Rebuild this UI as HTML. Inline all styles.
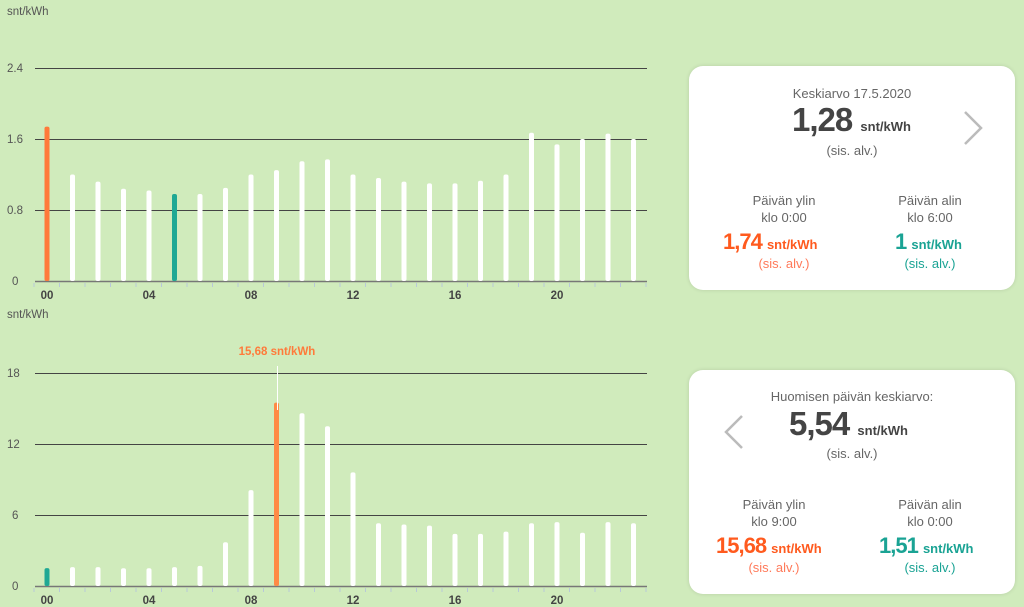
<!DOCTYPE html>
<html><head><meta charset="utf-8"><style>
body{margin:0;width:1024px;height:607px;background:#d0ebbc;font-family:"Liberation Sans",sans-serif;position:relative;overflow:hidden}
.card{position:absolute;left:689px;width:326px;height:224px;background:#fff;border-radius:14px;box-shadow:0 0 4px rgba(0,0,0,.12);color:#555;text-align:center}
.t{position:absolute;font-size:13px;color:#666;white-space:nowrap}
.big{position:absolute;font-weight:bold;white-space:nowrap;color:#444;font-size:33px;letter-spacing:-1px}
.big span{font-size:13px;letter-spacing:0}
.mid{position:absolute;font-weight:bold;white-space:nowrap;font-size:22px;letter-spacing:-1px}
.mid span{font-size:13px;letter-spacing:0}
.o{color:#ff5a1e}.g{color:#1aa394}
</style></head><body>
<svg width="680" height="607" style="position:absolute;left:0;top:0" font-family="Liberation Sans,sans-serif">
<g font-size="11.5" fill="#555">
<text x="7" y="15">snt/kWh</text><text x="7" y="318">snt/kWh</text>
<text x="7" y="72">2.4</text><text x="7" y="143">1.6</text><text x="7" y="214">0.8</text><text x="12" y="285">0</text>
<text x="7" y="377">18</text><text x="7" y="448">12</text><text x="12" y="519">6</text><text x="12" y="590">0</text>
</g>
<g stroke="#444" stroke-width="1">
<line x1="35" x2="647" y1="68.5" y2="68.5"/><line x1="35" x2="647" y1="139.5" y2="139.5"/><line x1="35" x2="647" y1="210.5" y2="210.5"/>
<line x1="35" x2="647" y1="373.5" y2="373.5"/><line x1="35" x2="647" y1="444.5" y2="444.5"/><line x1="35" x2="647" y1="515.5" y2="515.5"/>
</g>
<g stroke="#777" stroke-width="1.5"><line x1="35" x2="647" y1="281.5" y2="281.5"/><line x1="35" x2="647" y1="586.5" y2="586.5"/></g>
<g id="bars"></g>
<g font-size="11.5" font-weight="bold" fill="#444" text-anchor="middle">
<text x="47" y="299">00</text><text x="149" y="299">04</text><text x="251" y="299">08</text><text x="353" y="299">12</text><text x="455" y="299">16</text><text x="557" y="299">20</text>
<text x="47" y="604">00</text><text x="149" y="604">04</text><text x="251" y="604">08</text><text x="353" y="604">12</text><text x="455" y="604">16</text><text x="557" y="604">20</text>
</g>
<text x="277" y="355" font-size="11.5" font-weight="bold" fill="#ff7a3a" text-anchor="middle">15,68 snt/kWh</text>
</svg>
<script>
var a=[1.74,1.2,1.12,1.04,1.02,0.98,0.98,1.05,1.2,1.25,1.35,1.37,1.2,1.16,1.12,1.1,1.1,1.13,1.2,1.67,1.54,1.6,1.66,1.6];
var b=[1.51,1.6,1.6,1.5,1.5,1.6,1.7,3.7,8.1,15.5,14.6,13.5,9.6,5.3,5.2,5.1,4.4,4.4,4.6,5.3,5.4,4.5,5.4,5.3];
var s='';
for(var h=0;h<24;h++){var x=47+25.5*h;
var c=h==0?'#ff7a3a':h==5?'#1fa894':'#fff';var y=281-a[h]*88.75;
s+='<rect x="'+(x-2.5)+'" y="'+y+'" width="5" height="'+(281-y)+'" rx="2" fill="'+c+'"/>';
c=h==9?'#ff8a45':h==0?'#1fa894':'#fff';y=586-b[h]*71/6;
s+='<rect x="'+(x-2.5)+'" y="'+y+'" width="5" height="'+(586-y)+'" rx="2" fill="'+c+'"/>';}
for(var h=0;h<25;h++){var x=34+25.5*h;s+='<line x1="'+x+'" x2="'+x+'" y1="283" y2="287" stroke="#b8c8d8"/><line x1="'+x+'" x2="'+x+'" y1="588" y2="592" stroke="#b8c8d8"/>';}
s+='<line x1="277.5" x2="277.5" y1="366" y2="410" stroke="#fff"/>';
document.getElementById('bars').innerHTML=s;
</script>
<div class="card" style="top:66px">
<div class="t" style="left:0;width:100%;top:20px">Keskiarvo 17.5.2020</div>
<div class="big" style="left:103px;top:35px">1,28 <span>snt/kWh</span></div>
<div class="t" style="width:276px;top:77px;text-align:center;left:25px">(sis. alv.)</div>
<svg style="position:absolute;left:272px;top:44px" width="24" height="36"><polyline points="4,2 20,18 4,34" fill="none" stroke="#bbb" stroke-width="2.5"/></svg>
<div class="t" style="left:40px;width:110px;top:127px">Päivän ylin</div>
<div class="t" style="left:40px;width:110px;top:144px">klo 0:00</div>
<div class="mid o" style="left:34px;top:163px">1,74 <span>snt/kWh</span></div>
<div class="t o" style="left:40px;width:110px;top:190px;color:#ff7a5a">(sis. alv.)</div>
<div class="t" style="left:186px;width:110px;top:127px">Päivän alin</div>
<div class="t" style="left:186px;width:110px;top:144px">klo 6:00</div>
<div class="mid g" style="left:206px;top:163px">1 <span>snt/kWh</span></div>
<div class="t g" style="left:186px;width:110px;top:190px">(sis. alv.)</div>
</div>
<div class="card" style="top:370px">
<div class="t" style="left:0;width:100%;top:19px">Huomisen päivän keskiarvo:</div>
<div class="big" style="left:100px;top:35px">5,54 <span>snt/kWh</span></div>
<div class="t" style="left:25px;width:276px;top:76px">(sis. alv.)</div>
<svg style="position:absolute;left:33px;top:44px" width="24" height="36"><polyline points="20,2 4,18 20,34" fill="none" stroke="#bbb" stroke-width="2.5"/></svg>
<div class="t" style="left:30px;width:110px;top:127px">Päivän ylin</div>
<div class="t" style="left:30px;width:110px;top:144px">klo 9:00</div>
<div class="mid o" style="left:27px;top:163px">15,68 <span>snt/kWh</span></div>
<div class="t o" style="left:30px;width:110px;top:190px;color:#ff7a5a">(sis. alv.)</div>
<div class="t" style="left:186px;width:110px;top:127px">Päivän alin</div>
<div class="t" style="left:186px;width:110px;top:144px">klo 0:00</div>
<div class="mid g" style="left:190px;top:163px">1,51 <span>snt/kWh</span></div>
<div class="t g" style="left:186px;width:110px;top:190px">(sis. alv.)</div>
</div>
</body></html>
